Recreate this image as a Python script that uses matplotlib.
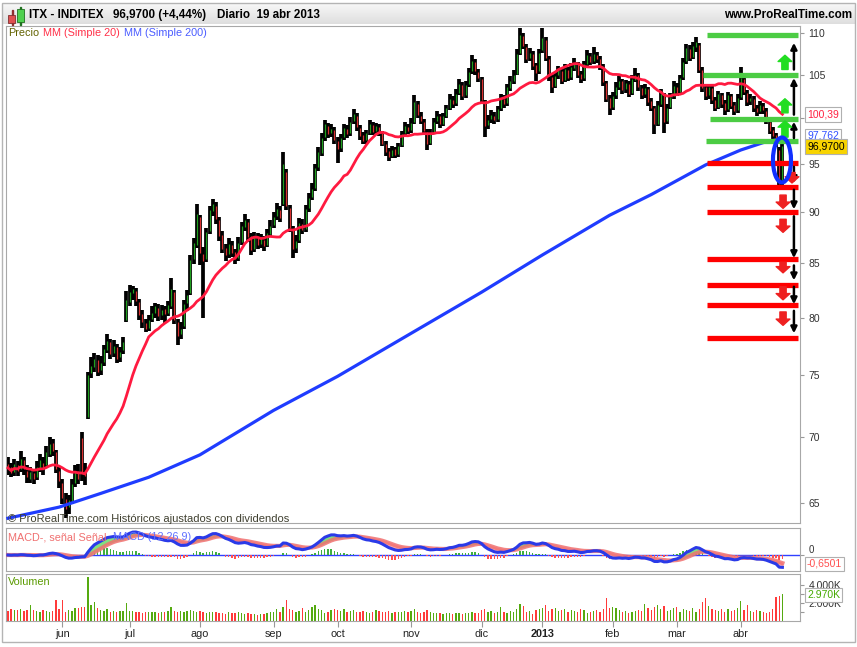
import numpy as np
import pandas as pd
import matplotlib
matplotlib.use('Agg')
from matplotlib import pyplot as plt
from matplotlib.patches import Ellipse, Rectangle
from matplotlib.ticker import FixedLocator, FixedFormatter, NullLocator

plt.rcParams['font.family'] = ['Liberation Sans', 'DejaVu Sans']

# etiquetas de meses y sesión en la que empiezan (índice de vela)
month_labels = ['jun', 'jul', 'ago', 'sep', 'oct', 'nov', 'dic', '2013', 'feb', 'mar', 'abr']
month_start = [17, 38, 60, 83, 103, 126, 148, 167, 189, 209, 229]

# velas diarias ITX, 9 may 2012 - 19 abr 2013 (una línea por mes)
opens = [67.9, 67.7, 67.3, 67.8, 67.5, 68.2, 67.4, 66.8, 67.2, 66.9, 67.6, 68.0, 67.8, 68.7, 69.5, 68.8, 67.4,
         66.5, 65.3, 64.7, 65.1, 66.5, 67.4, 69.9, 67.3, 71.6, 75.2, 75.7, 76.3, 75.4, 76.1, 77.1, 77.8, 76.9, 77.4, 76.5, 77.1, 79.8,
         81.4, 82.2, 82.4, 81.4, 80.3, 79.5, 79.1, 79.9, 80.4, 80.9, 80.2, 80.8, 80.4, 81.0, 82.3, 79.6, 78.5, 79.2, 81.3, 82.2, 85.4, 86.8,
         89.5, 85.9, 85.4, 88.1, 90.1, 90.6, 89.2, 87.7, 86.5, 85.9, 86.8, 86.1, 85.5, 87.1, 88.5, 89.0, 87.6, 86.4, 87.5, 86.9, 87.3, 86.8, 87.8,
         88.7, 89.6, 90.2, 90.8, 94.2, 90.4, 88.3, 86.5, 87.3, 88.8, 88.3, 90.4, 91.6, 92.5, 94.7, 96.2, 97.9, 99.1, 98.3, 98.7,
         97.5, 96.7, 97.9, 98.8, 98.3, 99.7, 100.3, 98.9, 98.1, 97.6, 98.4, 99.2, 98.6, 99.0, 98.3, 97.1, 96.4, 95.9, 96.6, 96.1, 97.0, 98.3, 99.0,
         98.7, 99.6, 101.6, 100.3, 99.6, 98.5, 97.3, 98.5, 99.7, 100.2, 99.4, 100.3, 101.2, 102.1, 101.7, 102.9, 103.8, 102.6, 103.9, 105.4, 106.5, 105.3,
         104.5, 101.9, 99.2, 99.9, 100.3, 99.9, 101.1, 102.2, 101.7, 103.4, 104.3, 105.1, 107.6, 109.6, 108.3, 107.0, 107.5, 106.1, 105.4,
         107.9, 109.2, 106.9, 104.7, 103.7, 104.9, 105.4, 104.4, 105.6, 104.7, 105.8, 106.2, 105.1, 104.6, 106.3, 107.2, 106.6, 107.3, 106.9, 105.9, 104.0, 102.3,
         101.3, 102.6, 103.5, 104.2, 103.3, 103.9, 102.9, 104.4, 104.9, 103.4, 102.7, 103.3, 101.9, 101.1, 99.4, 101.6, 102.6, 99.7, 101.3, 102.5,
         103.6, 103.0, 104.7, 106.6, 108.1, 107.1, 108.3, 108.5, 105.5, 103.5, 102.6, 103.4, 102.1, 101.3, 102.6, 101.7, 101.0, 102.5, 101.5, 100.9,
         102.4, 104.5, 102.9, 101.9, 102.2, 101.2, 100.8, 101.4, 100.8, 99.6, 98.7, 98.1, 96.5, 93.3]
highs = [68.4, 68.0, 68.3, 68.1, 68.9, 68.4, 67.8, 67.7, 67.5, 68.1, 68.7, 68.4, 69.3, 70.0, 69.8, 69.0, 67.7,
         66.8, 65.7, 65.6, 66.8, 67.8, 67.9, 70.4, 68.0, 75.3, 76.5, 76.9, 76.7, 76.6, 77.6, 78.5, 78.1, 78.0, 77.7, 77.4, 78.3, 82.4,
         83.0, 82.9, 82.7, 81.7, 80.7, 79.9, 80.2, 81.0, 81.3, 81.2, 81.1, 81.0, 81.5, 83.6, 82.5, 79.9, 79.6, 81.6, 82.5, 85.8, 87.4, 90.8,
         89.7, 86.6, 88.4, 90.6, 91.4, 91.0, 89.5, 88.1, 86.9, 87.4, 87.2, 86.4, 87.5, 89.0, 89.8, 89.3, 87.9, 88.0, 87.9, 87.8, 87.6, 88.3, 89.2,
         90.0, 90.9, 90.6, 96.3, 94.5, 90.7, 88.6, 87.7, 89.4, 89.3, 90.7, 92.0, 93.0, 95.0, 96.8, 98.4, 99.8, 99.5, 99.4, 99.0,
         97.9, 98.2, 99.4, 99.2, 100.1, 101.0, 100.6, 99.2, 98.5, 98.7, 99.8, 99.6, 99.5, 99.4, 98.6, 97.5, 96.7, 96.9, 96.8, 97.3, 98.6, 99.6, 99.4,
         100.0, 102.6, 101.9, 100.7, 99.9, 98.8, 98.8, 100.0, 100.8, 100.5, 100.6, 101.5, 102.7, 102.5, 103.3, 104.5, 104.1, 104.3, 105.8, 107.3, 106.8, 105.7,
         104.7, 102.1, 100.4, 100.9, 100.7, 101.4, 102.8, 102.6, 103.9, 104.8, 105.6, 108.0, 110.6, 110.0, 108.6, 108.2, 107.8, 106.4, 108.0,
         110.6, 109.5, 107.2, 105.0, 105.2, 106.0, 105.8, 106.2, 105.9, 106.4, 107.0, 106.5, 105.4, 106.6, 107.9, 107.6, 108.3, 107.7, 107.2, 106.2, 104.3, 102.6,
         103.0, 104.1, 104.8, 104.5, 104.4, 104.2, 104.9, 105.8, 105.2, 103.8, 103.9, 103.6, 102.3, 101.4, 101.9, 103.3, 102.9, 101.6, 102.9, 104.2,
         104.0, 105.0, 107.0, 108.7, 108.5, 108.9, 109.5, 108.8, 105.9, 103.8, 103.9, 103.7, 102.4, 103.1, 102.9, 102.0, 103.0, 102.8, 101.8, 102.8,
         105.9, 104.8, 103.2, 102.7, 102.5, 101.5, 101.9, 101.7, 101.1, 99.9, 99.0, 98.3, 96.8, 97.3]
lows = [67.1, 66.9, 67.0, 67.0, 67.3, 67.1, 66.5, 66.5, 66.4, 66.7, 67.3, 67.1, 67.6, 68.4, 68.5, 67.2, 66.1,
        64.9, 63.9, 64.2, 64.9, 66.2, 66.4, 66.6, 66.3, 71.4, 74.8, 75.3, 74.9, 75.0, 75.8, 76.9, 76.4, 76.5, 76.0, 76.1, 76.8, 79.6,
        81.0, 81.6, 81.0, 79.8, 79.1, 78.7, 78.8, 79.6, 80.0, 79.7, 79.8, 79.5, 80.1, 80.8, 79.4, 77.6, 78.1, 79.0, 80.6, 82.0, 84.9, 86.5,
        84.8, 80.0, 85.1, 87.8, 89.6, 88.8, 87.2, 86.0, 85.2, 85.5, 85.6, 84.9, 85.2, 86.8, 88.1, 87.1, 85.8, 86.1, 86.4, 86.5, 86.2, 86.6, 87.5,
        88.4, 89.2, 89.0, 90.6, 90.2, 88.0, 85.5, 86.0, 87.0, 87.8, 88.0, 90.0, 91.2, 92.2, 94.3, 95.9, 97.5, 97.8, 97.9, 97.2,
        95.1, 96.3, 97.6, 97.8, 98.0, 99.3, 98.6, 97.6, 97.1, 97.2, 98.1, 98.1, 98.2, 98.0, 96.9, 95.9, 95.3, 95.6, 95.6, 95.8, 96.8, 98.0, 98.2,
        98.4, 99.4, 100.0, 99.3, 98.2, 96.5, 97.0, 98.2, 99.4, 98.9, 99.1, 100.0, 100.9, 101.2, 101.4, 102.6, 102.1, 102.3, 103.6, 105.1, 104.9, 104.1,
        101.6, 97.9, 98.8, 99.5, 99.4, 99.6, 100.8, 101.2, 101.4, 103.1, 103.9, 104.9, 107.3, 108.0, 106.4, 106.6, 105.6, 104.2, 105.1,
        107.6, 106.6, 104.3, 102.9, 103.4, 104.5, 103.9, 104.1, 104.2, 104.4, 105.4, 104.6, 104.0, 104.3, 106.0, 106.1, 106.3, 106.4, 105.6, 103.7, 101.8, 100.4,
        100.9, 102.2, 103.2, 102.8, 102.9, 102.4, 102.6, 104.1, 103.1, 102.2, 102.3, 101.4, 100.8, 98.2, 99.1, 101.3, 98.3, 99.4, 101.0, 102.2,
        102.5, 102.7, 104.4, 106.3, 106.6, 106.8, 107.7, 105.2, 103.0, 102.1, 102.2, 101.6, 100.8, 101.0, 101.2, 100.4, 100.7, 101.0, 100.4, 100.6,
        102.1, 102.6, 101.4, 101.5, 100.7, 100.3, 100.5, 100.5, 99.3, 98.2, 97.6, 96.8, 92.6, 92.7]
closes = [67.6, 67.2, 67.9, 67.4, 68.3, 67.5, 66.9, 67.3, 66.8, 67.7, 68.2, 67.6, 68.8, 69.4, 68.9, 67.5, 66.6,
          65.4, 64.6, 65.2, 66.4, 67.3, 66.8, 67.2, 67.0, 75.0, 75.8, 76.4, 75.3, 76.0, 77.2, 77.9, 76.8, 77.5, 76.4, 77.0, 77.8, 81.6,
          82.3, 82.6, 81.5, 80.2, 79.6, 79.0, 79.8, 80.4, 81.0, 80.1, 80.7, 80.3, 81.1, 82.6, 79.8, 78.4, 79.0, 81.2, 82.0, 85.3, 87.0, 89.8,
          86.0, 85.2, 88.0, 90.2, 90.8, 89.3, 87.6, 86.4, 85.8, 86.9, 86.0, 85.4, 87.0, 88.6, 89.2, 87.5, 86.3, 87.6, 86.8, 87.4, 86.7, 87.9, 88.6,
          89.5, 90.3, 89.4, 95.0, 90.6, 88.4, 86.4, 87.2, 88.9, 88.2, 90.3, 91.5, 92.4, 94.6, 96.3, 97.8, 99.3, 98.2, 98.8, 97.6,
          96.6, 97.8, 98.9, 98.2, 99.6, 100.5, 99.0, 98.0, 97.5, 98.3, 99.3, 98.5, 99.1, 98.4, 97.2, 96.3, 95.8, 96.5, 96.0, 96.9, 98.2, 99.1, 98.6,
          99.5, 101.8, 100.4, 99.7, 98.6, 97.2, 98.4, 99.6, 100.3, 99.3, 100.2, 101.1, 102.2, 101.6, 102.8, 103.9, 102.5, 103.8, 105.3, 106.6, 105.4, 104.6,
          102.0, 99.1, 99.8, 100.4, 99.8, 101.0, 102.3, 101.6, 103.5, 104.2, 105.0, 107.5, 109.8, 108.4, 106.9, 107.6, 106.0, 105.2, 107.6,
          109.4, 107.0, 104.8, 103.6, 104.8, 105.5, 104.3, 105.7, 104.6, 105.9, 106.3, 105.0, 104.5, 106.2, 107.3, 106.5, 107.4, 106.8, 106.0, 104.1, 102.2, 101.2,
          102.5, 103.6, 104.3, 103.2, 104.0, 102.8, 104.5, 105.0, 103.5, 102.6, 103.4, 101.8, 101.2, 99.3, 101.5, 102.8, 99.6, 101.2, 102.4, 103.7,
          102.9, 104.6, 106.5, 108.2, 107.0, 108.4, 108.9, 105.6, 103.4, 102.5, 103.5, 102.0, 101.2, 102.7, 101.6, 100.9, 102.6, 101.4, 100.8, 102.3,
          104.6, 103.0, 101.8, 102.3, 101.1, 100.7, 101.5, 100.9, 99.7, 98.6, 98.0, 97.2, 92.85, 96.97]
# volumen en miles de acciones
volume = [1150, 1300, 1250, 1200, 1350, 1100, 1200, 1800, 1250, 1150, 1050, 1200, 1100, 950, 1150, 2300, 1300,
          2300, 1000, 1200, 1100, 1400, 1400, 1600, 1500, 4900, 1800, 2100, 1400, 1200, 1100, 1300, 1000, 1100, 1050, 1150, 1100, 2000,
          1150, 1100, 1050, 1000, 900, 1000, 950, 1050, 1000, 900, 1000, 950, 1100, 1600, 1150, 1000, 1150, 950, 1100, 1200, 1100, 1000,
          1100, 1050, 900, 1000, 1000, 950, 900, 850, 800, 950, 850, 900, 1000, 850, 800, 900, 750, 800, 700, 750, 800, 900, 1000,
          950, 1300, 1000, 1500, 2300, 1300, 1200, 1000, 1100, 1400, 1000, 1200, 1500, 1800, 1300, 1200, 900, 1000, 1200, 1300,
          1200, 1100, 1300, 1000, 1100, 1200, 1000, 950, 1100, 1000, 900, 1000, 1200, 1100, 1000, 1050, 1100, 900, 1000, 950, 1050, 1150, 1000,
          1100, 1300, 1000, 900, 950, 1200, 1000, 900, 850, 900, 800, 850, 900, 800, 850, 900, 800, 850, 900, 1000, 850, 900,
          1200, 1300, 1000, 1100, 900, 1000, 1500, 1000, 900, 1100, 1000, 1300, 1900, 1700, 1000, 1100, 800, 1200, 1300,
          1400, 1800, 1100, 1300, 1400, 1100, 1200, 1300, 1000, 1200, 1100, 1000, 1300, 1200, 900, 1000, 1100, 1200, 1000, 1300, 2600, 1400,
          1600, 1400, 1200, 1000, 1100, 900, 1000, 1100, 1200, 1100, 1900, 1400, 1200, 1500, 1800, 1300, 1700, 1100, 1200, 1400,
          1600, 1000, 1300, 1200, 1100, 1400, 1000, 1300, 2100, 2500, 1700, 1300, 1200, 1100, 1300, 1000, 1300, 1100, 1200, 1400,
          2200, 1200, 1800, 1100, 1000, 1200, 1100, 1000, 900, 1000, 1300, 2700, 2800, 2970]

# media de 200 sesiones
ma200_idx = [0, 16, 29, 44, 60, 83, 103, 126, 148, 167, 188, 201, 218, 229, 236, 242]
ma200_val = [63.9, 64.7, 65.7, 66.9, 68.6, 72.1, 74.9, 78.6, 82.3, 85.8, 89.7, 91.8, 94.9, 96.5, 97.3, 97.76]

price_ticks = [65, 70, 75, 80, 85, 90, 95, 100, 105, 110]
price_tick_labels = ['65', '70', '75', '80', '85', '90', '95', '', '105', '110']  # 100 queda bajo la caja 100,39

# niveles dibujados a mano
green_levels = [109.75, 105.0, 99.9, 97.45]
red_levels = [95.1, 92.6, 90.0, 85.4, 83.0, 81.1, 78.2]
up_arrows = [(97.8, 99.6), (100.4, 104.6), (105.6, 108.8)]
down_arrows = [(94.7, 93.0), (92.3, 90.3), (89.6, 85.5), (84.8, 83.4), (82.8, 81.2), (80.6, 78.6)]
green_marks = [(105.6, 107.3), (100.6, 102.2), (97.9, 99.7)]
red_marks = [(91.75, 90.4), (89.3, 88.0), (85.1, 84.1), (82.8, 81.6), (80.5, 79.3)]

W, H = 857, 647
fig = plt.figure(figsize=(W / 100, H / 100), dpi=100)


def rect(l, t, r, b):
    return [l / W, 1 - b / H, (r - l) / W, (b - t) / H]


def ftext(px, py, s, **kw):
    return fig.text(px / W, 1 - py / H, s, **kw)


c_green = '#1f9f1f'
c_red = '#d83030'
o = np.array(opens)
hi = np.array(highs)
lo = np.array(lows)
c = np.array(closes)
x = np.arange(len(c))
up = c >= o

# marco exterior y barra de título
fig.add_artist(Rectangle((2 / W, 1 - 642 / H), 853 / W, 639 / H, transform=fig.transFigure,
                         fill=False, ec='#b4b4b4', lw=1))
ax_t = fig.add_axes(rect(2, 3, 855, 24))
ax_t.imshow(np.linspace(0.97, 0.87, 40).reshape(-1, 1), cmap='gray', vmin=0, vmax=1,
            aspect='auto', extent=(0, 1, 0, 1))
ax_t.axis('off')
# icono de velas
fig.add_artist(Rectangle((11.5 / W, 1 - 25 / H), 1 / W, 15 / H, transform=fig.transFigure, color='#903030'))
fig.add_artist(Rectangle((8 / W, 1 - 23 / H), 7 / W, 8 / H, transform=fig.transFigure, fc='#e05050', ec='#803030', lw=0.6))
fig.add_artist(Rectangle((20 / W, 1 - 25 / H), 1 / W, 18 / H, transform=fig.transFigure, color='#207020'))
fig.add_artist(Rectangle((17 / W, 1 - 22 / H), 7 / W, 13 / H, transform=fig.transFigure, fc='#50d050', ec='#207020', lw=0.6))
ftext(29, 15, 'ITX - INDITEX', fontsize=8.4, fontweight='bold', va='center')
ftext(113, 15, '96,9700 (+4,44%)', fontsize=8.4, fontweight='bold', va='center')
ftext(217, 15, 'Diario  19 abr 2013', fontsize=8.4, fontweight='bold', va='center')
ftext(852, 15, 'www.ProRealTime.com', fontsize=8.4, fontweight='bold', va='center', ha='right')

# panel de precios
ax = fig.add_axes(rect(6, 26, 800, 523))
ax.set_yscale('log')
ax.vlines(x, lo, hi, color='black', lw=2.7, zorder=2)
ax.vlines(x, np.minimum(o, c), np.maximum(o, c), color=np.where(up, c_green, c_red), lw=0.9, zorder=3)
ma20 = pd.Series(c).rolling(20, min_periods=1).mean()
ax.plot(x, ma20, color='#ff1a40', lw=2.0, zorder=4)
ax.plot(ma200_idx, ma200_val, color='#1f3cff', lw=2.3, zorder=4)

green_start = [218.4, 217.2, 219.4, 218.1]
ax.hlines(green_levels, green_start, 246.9, color='#4ccc44', lw=3.8, zorder=5)
ax.hlines(red_levels, 218.4, 246.9, color='#ff0000', lw=3.8, zorder=5)
for y0, y1 in up_arrows + down_arrows:
    ax.annotate('', xy=(245.6, y1), xytext=(245.6, y0), zorder=6,
                arrowprops=dict(arrowstyle='-|>', color='black', lw=1.8, mutation_scale=9, shrinkA=0, shrinkB=0))
for y0, y1 in green_marks:
    ax.annotate('', xy=(242.8, y1), xytext=(242.8, y0), zorder=6,
                arrowprops=dict(arrowstyle='simple,head_length=0.5,head_width=1.1,tail_width=0.5',
                                color='#22dd22', mutation_scale=9, shrinkA=0, shrinkB=0))
for y0, y1 in red_marks + [(94.1, 93.0)]:
    xm = 242.2 if y0 < 94 else 245.0
    ax.annotate('', xy=(xm, y1), xytext=(xm, y0), zorder=6,
                arrowprops=dict(arrowstyle='simple,head_length=0.5,head_width=1.1,tail_width=0.5',
                                color='#ee2020', mutation_scale=9, shrinkA=0, shrinkB=0))
ax.add_patch(Ellipse((0.9773, 0.7304), 0.0227, 0.0905, transform=ax.transAxes,
                     fill=False, ec='#1030ff', lw=3, zorder=7))

ax.set_ylim(63.56, 110.87)
ax.set_xlim(-0.6, 247.5)
ax.yaxis.tick_right()
ax.yaxis.set_major_locator(FixedLocator(price_ticks))
ax.yaxis.set_major_formatter(FixedFormatter(price_tick_labels))
ax.yaxis.set_minor_locator(NullLocator())
ax.tick_params(axis='x', bottom=False, labelbottom=False)

ftext(8, 33, 'Precio', fontsize=7.8, color='#626200', va='center')
ftext(43, 33, 'MM (Simple 20)', fontsize=7.8, color='#ff3048', va='center')
ftext(124, 33, 'MM (Simple 200)', fontsize=7.8, color='#4a5cff', va='center')
ftext(8, 519, '© ProRealTime.com Históricos ajustados con dividendos', fontsize=8, color='#404030', va='center')

# panel MACD
s = pd.Series(c)
macd = s.ewm(span=12, adjust=False).mean() - s.ewm(span=26, adjust=False).mean()
signal = macd.ewm(span=9, adjust=False).mean()
hist = macd - signal
ax_m = fig.add_axes(rect(6, 528, 800, 571), sharex=ax)
ax_m.axhline(0, color='#3040ff', lw=1, zorder=1)
ax_m.bar(x, hist, width=0.45, color=np.where(hist >= 0, '#40b040', '#ff5050'), zorder=2)
ax_m.fill_between(x, macd, signal, where=macd >= signal, color='#80e080', interpolate=True, zorder=3)
ax_m.fill_between(x, macd, signal, where=macd < signal, color='#ffb0b0', interpolate=True, zorder=3)
ax_m.plot(x, signal, color='#f07070', lw=3, alpha=0.85, zorder=4)
ax_m.plot(x, macd, color='#2a3ae8', lw=2.2, zorder=5)
top = macd.max() * 27 / 23
ax_m.set_ylim(-top * 16 / 27, top)
ax_m.yaxis.tick_right()
ax_m.set_yticks([0], ['0'])
ax_m.tick_params(axis='x', bottom=False, labelbottom=False)
ftext(8, 537, 'MACD-, señal Señal ', fontsize=7.8, color='#f07070', va='center')
ftext(113, 537, 'MACD (12 26 9)', fontsize=7.8, color='#6070ff', va='center')

# panel de volumen
ax_v = fig.add_axes(rect(6, 574, 800, 621), sharex=ax)
ax_v.bar(x, volume, width=0.42, color=np.where(up, '#55aa10', '#ff3a3a'))
ax_v.set_ylim(0, 5222)
ax_v.yaxis.tick_right()
ax_v.set_yticks([1000, 2000, 3000, 4000], ['', '2.000K', '', '4.000K'])
ax_v.set_xticks(month_start, month_labels)
for lab in ax_v.get_xticklabels():
    if lab.get_text() == '2013':
        lab.set_fontweight('bold')
        lab.set_fontsize(10)
ax_v.tick_params(axis='x', direction='out', length=4, color='#999999', labelsize=7.8, labelcolor='#222222', pad=2)
ftext(8, 582, 'Volumen', fontsize=7.8, color='#5a9a00', va='center')

for a in (ax, ax_m, ax_v):
    a.tick_params(axis='y', direction='out', length=3, width=0.8, color='#999999',
                  labelsize=7.5, labelcolor='#333333', pad=3)
    for sp in a.spines.values():
        sp.set_color('#a8a8a8')
        sp.set_linewidth(0.8)
# el 0 del MACD se apoya encima de la línea, sobre la caja del último valor
for lab in ax_m.get_yticklabels():
    lab.set_va('bottom')
    lab.set_fontsize(7)

# cajas con los últimos valores
ftext(807, 114.5, '100,39', fontsize=7.5, color='#ff2040', va='center',
      bbox=dict(boxstyle='square,pad=0.2', fc='white', ec='#b0b0b0', lw=0.8))
ftext(807, 136, '97,762', fontsize=7.5, color='#3050ff', va='center',
      bbox=dict(boxstyle='square,pad=0.2', fc='white', ec='#b0b0b0', lw=0.8))
ftext(807, 146.5, '96,9700', fontsize=7.5, color='black', va='center',
      bbox=dict(boxstyle='square,pad=0.2', fc='#f8d400', ec='#b0b0b0', lw=0.8))
ftext(807, 564, '-0,6501', fontsize=7.5, color='#ff5050', va='center',
      bbox=dict(boxstyle='square,pad=0.2', fc='white', ec='#b0b0b0', lw=0.8))
ftext(807, 595, '2.970K', fontsize=7.5, color='#44aa00', va='center',
      bbox=dict(boxstyle='square,pad=0.2', fc='white', ec='#b0b0b0', lw=0.8))

fig.savefig('out.png', dpi=100)
